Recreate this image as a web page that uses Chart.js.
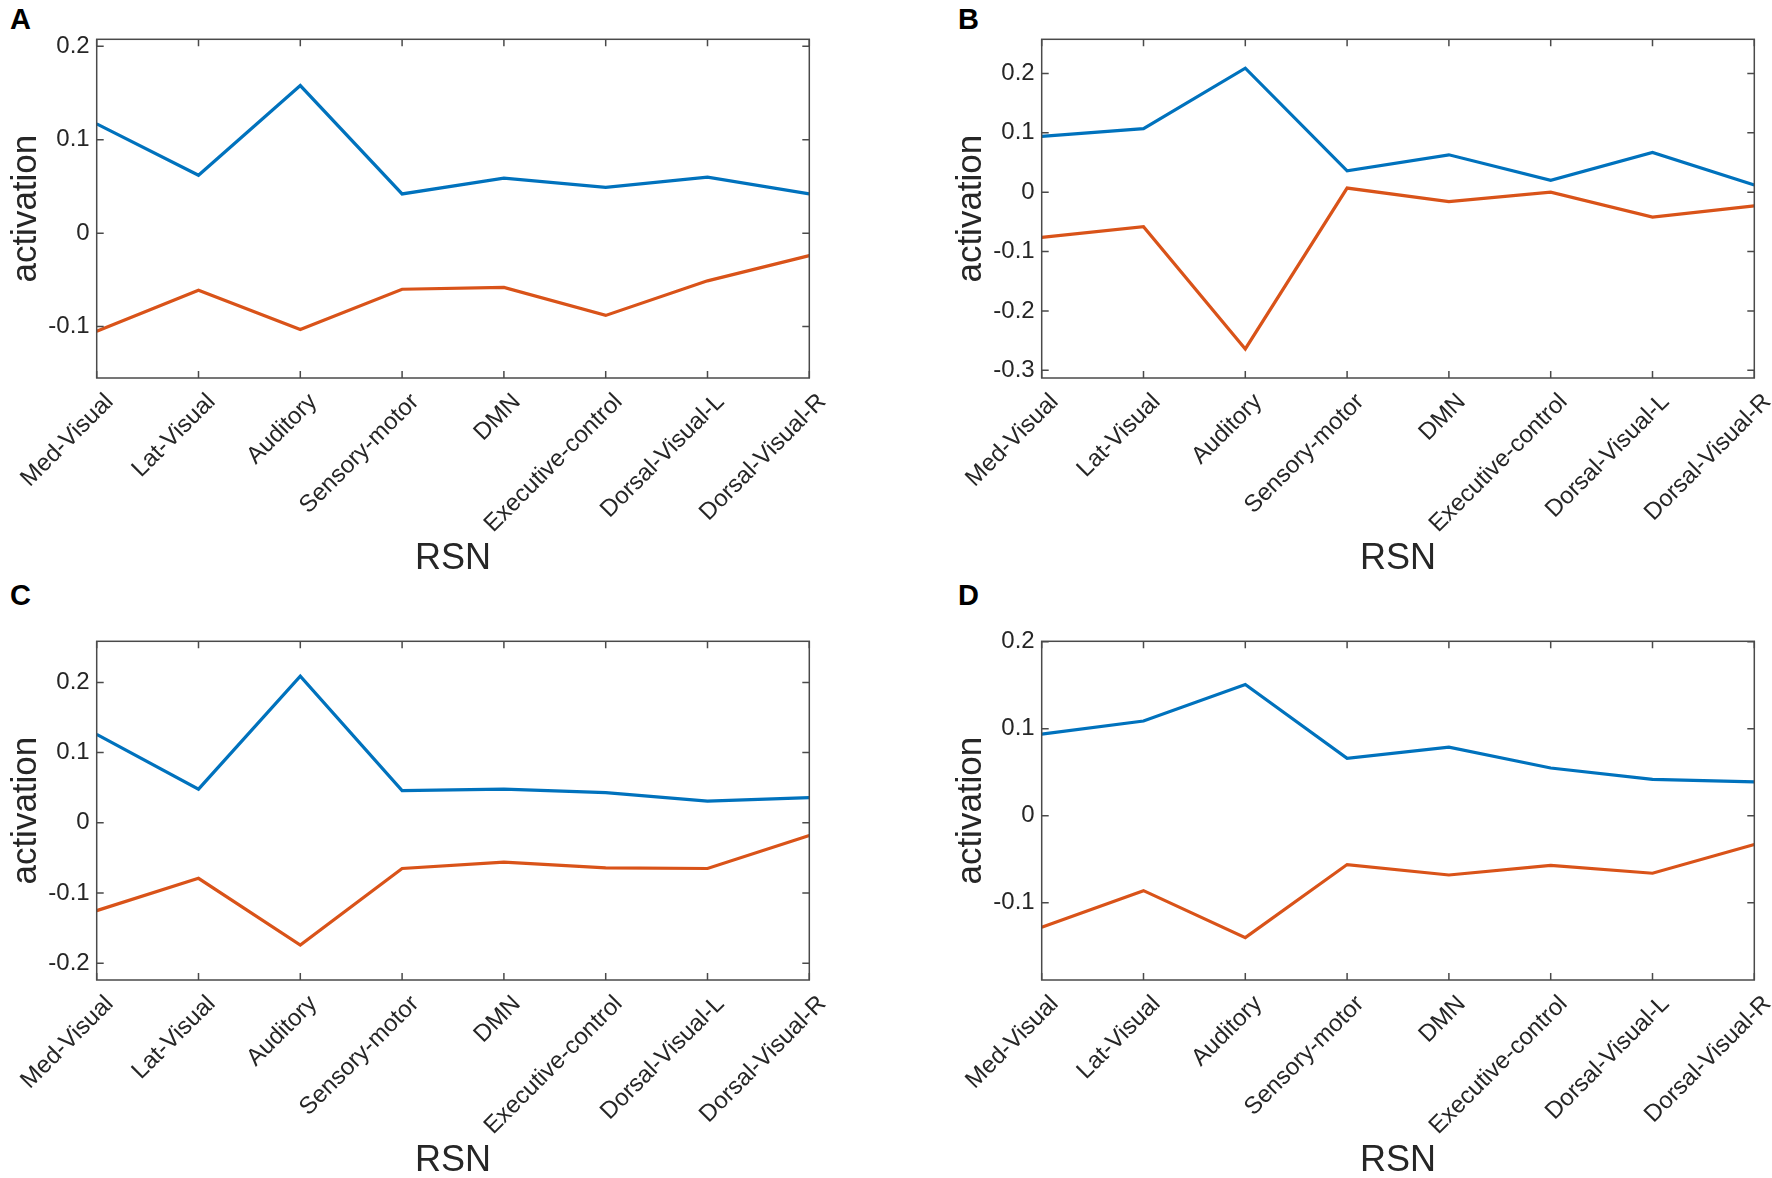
<!DOCTYPE html>
<html>
<head>
<meta charset="utf-8">
<script src="https://cdn.jsdelivr.net/npm/chart.js@4"></script>
<style>
  html, body { margin: 0; padding: 0; background: #fff; overflow: hidden; }
  body { width: 1772px; height: 1178px; position: relative; }
  .panel { position: absolute; width: 827px; height: 589px; }
  .letter { position: absolute; font: bold 29px "Liberation Sans", Arial, sans-serif; line-height: 29px; color: #000; }
</style>
</head>
<body>
<div class="letter" style="left:10px;top:5px;">A</div>
<div class="letter" style="left:958px;top:5px;">B</div>
<div class="letter" style="left:10px;top:581px;">C</div>
<div class="letter" style="left:958px;top:581px;">D</div>
<div class="panel" style="left:0px;top:0px;"><canvas id="chartA" width="827" height="589"></canvas></div>
<div class="panel" style="left:945px;top:0px;"><canvas id="chartB" width="827" height="589"></canvas></div>
<div class="panel" style="left:0px;top:602px;"><canvas id="chartC" width="827" height="589"></canvas></div>
<div class="panel" style="left:945px;top:602px;"><canvas id="chartD" width="827" height="589"></canvas></div>
<script>
// resting-state networks on the x axis
const networks = ["Med-Visual", "Lat-Visual", "Auditory", "Sensory-motor", "DMN",
                  "Executive-control", "Dorsal-Visual-L", "Dorsal-Visual-R"];

// panel A
const blueA = [0.117, 0.062, 0.158, 0.042, 0.059, 0.049, 0.060, 0.042];
const redA  = [-0.105, -0.061, -0.103, -0.060, -0.058, -0.088, -0.051, -0.024];
const ticksA = [-0.1, 0, 0.1, 0.2];
const rangeA = [-0.155, 0.2075];

// panel B
const blueB = [0.094, 0.107, 0.209, 0.036, 0.063, 0.020, 0.067, 0.012];
const redB  = [-0.076, -0.058, -0.264, 0.007, -0.016, 0.000, -0.042, -0.023];
const ticksB = [-0.3, -0.2, -0.1, 0, 0.1, 0.2];
const rangeB = [-0.313, 0.2576];

// panel C
const blueC = [0.126, 0.048, 0.209, 0.046, 0.048, 0.043, 0.031, 0.036];
const redC  = [-0.125, -0.079, -0.174, -0.065, -0.056, -0.064, -0.065, -0.018];
const ticksC = [-0.2, -0.1, 0, 0.1, 0.2];
const rangeC = [-0.2238, 0.2585];

// panel D
const blueD = [0.094, 0.109, 0.151, 0.066, 0.079, 0.055, 0.042, 0.039];
const redD  = [-0.128, -0.086, -0.140, -0.056, -0.068, -0.057, -0.066, -0.033];
const ticksD = [-0.1, 0, 0.1, 0.2];
const rangeD = [-0.1887, 0.2006];

const FONT = '"Liberation Sans", Arial, sans-serif';
const TEXT = '#262626';
Chart.defaults.font.family = FONT;
Chart.defaults.color = TEXT;

// MATLAB-style box with inward ticks on all four sides
const matlabBox = {
    id: 'matlabBox',
    afterDatasetsDraw(chart) {
        const { ctx, chartArea: a, scales: { x, y } } = chart;
        ctx.save();
        ctx.strokeStyle = '#4a4a4a';
        ctx.lineWidth = 1.5;
        ctx.beginPath();
        x.ticks.forEach((t, i) => {
            const px = x.getPixelForTick(i);
            ctx.moveTo(px, a.bottom); ctx.lineTo(px, a.bottom - 7);
            ctx.moveTo(px, a.top); ctx.lineTo(px, a.top + 7);
        });
        y.ticks.forEach(t => {
            const py = y.getPixelForValue(t.value);
            ctx.moveTo(a.left, py); ctx.lineTo(a.left + 7, py);
            ctx.moveTo(a.right, py); ctx.lineTo(a.right - 7, py);
        });
        ctx.stroke();
        ctx.strokeRect(a.left, a.top, a.right - a.left, a.bottom - a.top);
        ctx.restore();
    }
};

function makePanel(id, blue, red, yTicks, yRange) {
    const ctx = document.getElementById(id).getContext('2d');
    return new Chart(ctx, {
        type: 'line',
        data: {
            labels: networks,
            datasets: [
                { data: blue, borderColor: '#0072BD', borderWidth: 3.2, pointRadius: 0, tension: 0 },
                { data: red,  borderColor: '#D95319', borderWidth: 3.2, pointRadius: 0, tension: 0 }
            ]
        },
        options: {
            responsive: false,
            animation: false,
            layout: { padding: { top: 39.3, right: 17.7, left: 0, bottom: 0 } },
            plugins: { legend: { display: false }, tooltip: { enabled: false } },
            scales: {
                x: {
                    offset: false,
                    grid: { display: false, drawTicks: false },
                    border: { display: false },
                    ticks: {
                        autoSkip: false, maxRotation: 45, minRotation: 45,
                        padding: 10, labelOffset: 13, color: TEXT,
                        font: { size: 24 }
                    },
                    title: {
                        display: true, text: 'RSN', color: TEXT,
                        font: { size: 36 }, padding: { top: 0, bottom: 8 }
                    },
                    afterFit: s => {
                        s.height = 211;
                        // keep the plot box where the layout padding puts it
                        s.paddingLeft = 0;
                        s.paddingRight = 0;
                    }
                },
                y: {
                    min: yRange[0], max: yRange[1],
                    grid: { display: false, drawTicks: false },
                    border: { display: false },
                    afterBuildTicks: s => { s.ticks = yTicks.map(v => ({ value: v })); },
                    ticks: {
                        padding: 7, color: TEXT,
                        font: { size: 24 },
                        callback: v => String(Number(v.toFixed(1)))
                    },
                    title: {
                        display: true, text: 'activation', color: TEXT,
                        font: { size: 35 }, padding: { top: 5, bottom: 0 }
                    },
                    afterFit: s => {
                        s.width = 96.7;
                        s.paddingTop = 0;
                        s.paddingBottom = 0;
                    }
                }
            }
        },
        plugins: [matlabBox]
    });
}

makePanel('chartA', blueA, redA, ticksA, rangeA);
makePanel('chartB', blueB, redB, ticksB, rangeB);
makePanel('chartC', blueC, redC, ticksC, rangeC);
makePanel('chartD', blueD, redD, ticksD, rangeD);
</script>
</body>
</html>
